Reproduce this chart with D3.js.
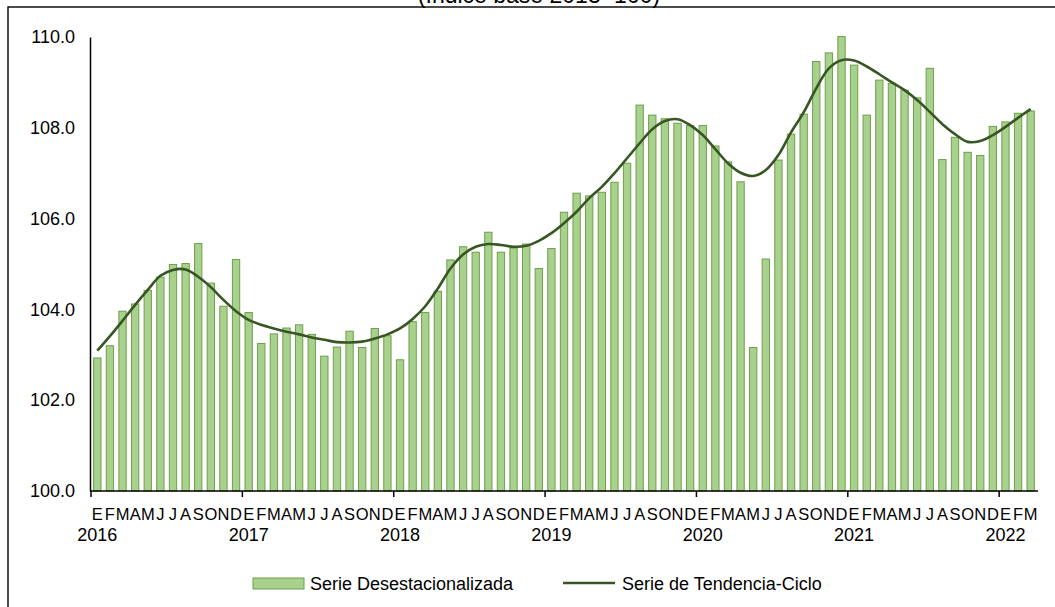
<!DOCTYPE html>
<html>
<head>
<meta charset="utf-8">
<script src="https://cdn.jsdelivr.net/npm/d3@7"></script>
<style>
  body { margin: 0; background: #fff; }
  text { font-family: "Liberation Sans", Arial, sans-serif; fill: #000; }
</style>
</head>
<body>
<div id="vis-container"></div>
<script>
// data
const months = ["E","F","M","A","M","J","J","A","S","O","N","D"];
const years = ["2016","2017","2018","2019","2020","2021","2022"];

const desest = [
  102.93, 103.20, 103.96, 104.12, 104.42, 104.71, 104.99, 105.01, 105.45, 104.58, 104.07, 105.10,
  103.93, 103.25, 103.46, 103.59, 103.66, 103.45, 102.97, 103.17, 103.52, 103.16, 103.58, 103.42,
  102.89, 103.73, 103.93, 104.40, 105.09, 105.38, 105.26, 105.70, 105.26, 105.35, 105.44, 104.90,
  105.34, 106.14, 106.56, 106.50, 106.58, 106.80, 107.22, 108.50, 108.28, 108.20, 108.10, 108.05,
  108.05, 107.60, 107.25, 106.81, 103.16, 105.11, 107.29, 107.86, 108.30, 109.46, 109.65, 110.01,
  109.38, 108.28, 109.05, 108.98, 108.83, 108.66, 109.31, 107.30, 107.79, 107.46, 107.39, 108.03,
  108.13, 108.32, 108.37
];

const tendencia = [
  103.09, 103.41, 103.75, 104.10, 104.43, 104.74, 104.87, 104.88, 104.72, 104.49, 104.21, 103.96,
  103.77, 103.66, 103.58, 103.51, 103.45, 103.38, 103.33, 103.28, 103.27, 103.29, 103.36, 103.45,
  103.58, 103.79, 104.07, 104.46, 104.90, 105.21, 105.38, 105.44, 105.42, 105.38, 105.40, 105.51,
  105.68, 105.90, 106.15, 106.45, 106.70, 107.00, 107.33, 107.66, 107.97, 108.15, 108.19, 108.06,
  107.84, 107.53, 107.22, 107.01, 106.94, 107.07, 107.40, 107.90, 108.34, 108.87, 109.31, 109.49,
  109.48, 109.35, 109.18, 109.00, 108.83, 108.61, 108.35, 108.08, 107.86, 107.69, 107.71, 107.84,
  108.02, 108.22, 108.41
];

const yTicks = [100, 102, 104, 106, 108, 110];

const barFill = "#a9d18e";
const barStroke = "#6f9f4b";
const lineColor = "#375623";

const W = 1055, H = 607;

const svg = d3.select("#vis-container")
  .append("svg")
    .attr("width", W)
    .attr("height", H);

// chart frame (runs off the right and bottom edges)
svg.append("rect")
  .attr("x", 8).attr("y", 7)
  .attr("width", 1100).attr("height", 700)
  .attr("fill", "none")
  .attr("stroke", "#000")
  .attr("stroke-width", 1.4);

// title, mostly cut off at the top as in the source
svg.append("text")
  .attr("x", 539).attr("y", 3)
  .attr("text-anchor", "middle")
  .style("font-size", "23px")
  .text("(Índice base 2013=100)");

const idx = desest.map((d, i) => i);

const x = d3.scaleBand()
  .domain(idx)
  .range([91, 1037])
  .paddingInner(0.42)
  .paddingOuter(0.21);

const y = d3.scaleLinear()
  .domain([100, 110])
  .range([491, 37]);

const step = x.step();
const xLeft = 91;

// bars
svg.append("g")
  .selectAll("rect")
  .data(desest)
  .enter()
  .append("rect")
    .attr("x", (d, i) => x(i))
    .attr("y", d => y(d))
    .attr("width", x.bandwidth())
    .attr("height", d => y(100) - y(d))
    .attr("fill", barFill)
    .attr("stroke", barStroke)
    .attr("stroke-width", 1);

// trend line
const line = d3.line()
  .x((d, i) => x(i) + x.bandwidth() / 2)
  .y(d => y(d))
  .curve(d3.curveCatmullRom.alpha(0.5));

svg.append("path")
  .datum(tendencia)
  .attr("d", line)
  .attr("fill", "none")
  .attr("stroke", lineColor)
  .attr("stroke-width", 2.6);

// y axis
const yAxis = svg.append("g")
  .attr("transform", "translate(90,0)")
  .call(d3.axisLeft(y)
    .tickValues(yTicks)
    .tickSize(0)
    .tickPadding(15)
    .tickFormat(d3.format(".1f")));
yAxis.select(".domain").attr("stroke", "#000").attr("stroke-width", 1.5);
yAxis.selectAll("text").style("font-size", "18px").attr("fill", "#000");

// x axis line + year ticks
svg.append("line")
  .attr("x1", 90).attr("x2", 1038)
  .attr("y1", y(100)).attr("y2", y(100))
  .attr("stroke", "#000")
  .attr("stroke-width", 1.5);

svg.append("g")
  .selectAll("line")
  .data(years)
  .enter()
  .append("line")
    .attr("x1", (d, k) => xLeft + k * 12 * step)
    .attr("x2", (d, k) => xLeft + k * 12 * step)
    .attr("y1", y(100))
    .attr("y2", y(100) + 6)
    .attr("stroke", "#000")
    .attr("stroke-width", 1.5);

// month letters
svg.append("g")
  .selectAll("text")
  .data(idx)
  .enter()
  .append("text")
    .attr("x", i => x(i) + x.bandwidth() / 2)
    .attr("y", 519.5)
    .attr("text-anchor", "middle")
    .style("font-size", "16.5px")
    .text(i => months[i % 12]);

// year labels under each January
svg.append("g")
  .selectAll("text")
  .data(years)
  .enter()
  .append("text")
    .attr("x", (d, k) => x(k * 12) + x.bandwidth() / 2)
    .attr("y", 540.5)
    .attr("text-anchor", "middle")
    .style("font-size", "18px")
    .text(d => d);

// legend
svg.append("rect")
  .attr("x", 253).attr("y", 578)
  .attr("width", 51).attr("height", 11)
  .attr("fill", barFill)
  .attr("stroke", barStroke);
svg.append("text")
  .attr("x", 310).attr("y", 589.5)
  .style("font-size", "18px")
  .text("Serie Desestacionalizada");

svg.append("line")
  .attr("x1", 563).attr("x2", 615)
  .attr("y1", 583).attr("y2", 583)
  .attr("stroke", lineColor)
  .attr("stroke-width", 2.6);
svg.append("text")
  .attr("x", 622).attr("y", 589.5)
  .style("font-size", "18px")
  .text("Serie de Tendencia-Ciclo");
</script>
</body>
</html>
